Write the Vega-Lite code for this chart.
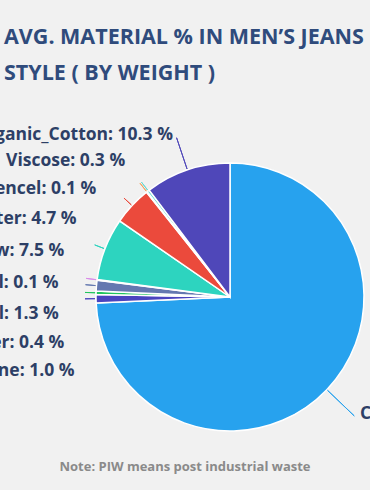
{
  "$schema": "https://vega.github.io/schema/vega-lite/v6.json",
  "background": "#f1f1f1",
  "autosize": "none",
  "padding": {"left": 90, "top": 147, "right": 0, "bottom": 43},
  "width": 280,
  "height": 300,
  "title": {
    "text": ["AVG. MATERIAL % IN MEN’S JEANS", "STYLE ( BY WEIGHT )"],
    "anchor": "start",
    "frame": "group",
    "dx": -86,
    "offset": 41,
    "font": "Open Sans",
    "fontSize": 21.5,
    "fontWeight": "bold",
    "color": "#2f4b7c",
    "lineHeight": 36
  },
  "config": {"view": {"stroke": null}},
  "layer": [
    {
      "data": {
        "values": [
          {"material": "Cotton", "percent": 74.3},
          {"material": "Elastane", "percent": 1.0},
          {"material": "Other", "percent": 0.4},
          {"material": "Lyocell", "percent": 1.3},
          {"material": "Wool", "percent": 0.1},
          {"material": "Cotton_Piw", "percent": 7.5},
          {"material": "Polyester", "percent": 4.7},
          {"material": "Tencel", "percent": 0.1},
          {"material": "Viscose", "percent": 0.3},
          {"material": "Organic_Cotton", "percent": 10.3}
        ]
      },
      "transform": [
        {"window": [{"op": "row_number", "as": "i"}]},
        {"window": [{"op": "percent_rank", "as": "k"}], "sort": [{"field": "i", "order": "descending"}]}
      ],
      "resolve": {"scale": {"theta": "independent"}},
      "layer": [
        {
          "encoding": {
            "theta": {"field": "percent", "type": "quantitative", "stack": true},
            "order": {"field": "i", "type": "quantitative"}
          },
          "layer": [
            {
              "mark": {"type": "arc", "outerRadius": 134, "stroke": "#ffffff", "strokeWidth": 1.5},
              "encoding": {
                "color": {
                  "field": "material",
                  "type": "nominal",
                  "legend": null,
                  "scale": {
                    "domain": ["Cotton", "Elastane", "Other", "Lyocell", "Wool", "Cotton_Piw", "Polyester", "Tencel", "Viscose", "Organic_Cotton"],
                    "range": ["#27a2ee", "#4a44bf", "#22c55e", "#6478b0", "#d98be8", "#2dd4bf", "#eb4a3c", "#f5a25d", "#67d9d2", "#4f47b9"]
                  }
                }
              }
            },
            {
              "mark": {"type": "arc", "filled": false, "innerRadius": 135, "outerRadius": 145, "padAngle": 3.2, "strokeWidth": 1},
              "encoding": {
                "color": {"field": "material", "type": "nominal", "legend": null},
                "strokeOpacity": {"condition": {"test": "datum.material === 'Cotton' || datum.material === 'Organic_Cotton'", "value": 0}, "value": 1}
              }
            },
            {
              "mark": {"type": "arc", "filled": false, "innerRadius": 135, "outerRadius": 168, "padAngle": 3.2, "strokeWidth": 1},
              "encoding": {
                "color": {"field": "material", "type": "nominal", "legend": null},
                "strokeOpacity": {"condition": {"test": "datum.material === 'Organic_Cotton'", "value": 1}, "value": 0}
              }
            },
            {
              "transform": [{"filter": "datum.material === 'Cotton'"}],
              "mark": {
                "type": "text",
                "radius": 180,
                "align": "left",
                "baseline": "middle",
                "dy": -7,
                "font": "Open Sans",
                "fontSize": 17.5,
                "fontWeight": "bold",
                "color": "#2d3f66",
                "text": {"expr": "datum.material + ': ' + format(datum.percent, '.1f') + ' %'"}
              }
            }
          ]
        },
        {
          "transform": [{"filter": "datum.material === 'Cotton'"}],
          "mark": {"type": "arc", "filled": false, "innerRadius": 135, "outerRadius": 172, "strokeWidth": 1},
          "encoding": {
            "theta": {"field": "percent", "type": "quantitative", "stack": null, "scale": {"domain": [0, 200]}},
            "theta2": {"field": "percent"},
            "color": {"field": "material", "type": "nominal", "legend": null}
          }
        },
        {
          "transform": [{"filter": "datum.material !== 'Cotton'"}],
          "mark": {
            "type": "text",
            "radius": 172,
            "align": "right",
            "baseline": "middle",
            "font": "Open Sans",
            "fontSize": 17.5,
            "fontWeight": "bold",
            "color": "#2d3f66",
            "text": {"expr": "datum.material + ': ' + format(datum.percent, '.1f') + ' %'"}
          },
          "encoding": {
            "theta": {
              "field": "k",
              "type": "quantitative",
              "stack": null,
              "scale": {"type": "pow", "exponent": 0.8, "domain": [0, 0.8889], "range": [5.945, 4.27]}
            }
          }
        }
      ]
    },
    {
      "data": {"values": [{"note": "Note: PIW means post industrial waste"}]},
      "mark": {
        "type": "text",
        "y": "height",
        "dy": 20,
        "dx": -45,
        "align": "center",
        "baseline": "middle",
        "font": "Open Sans",
        "fontSize": 13,
        "fontWeight": "bold",
        "color": "#8a8a8a"
      },
      "encoding": {"text": {"field": "note", "type": "nominal"}}
    }
  ]
}
